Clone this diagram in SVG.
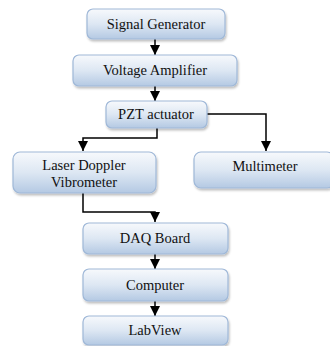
<svg xmlns="http://www.w3.org/2000/svg" width="330" height="346" viewBox="0 0 330 346">
<defs>
<linearGradient id="g" x1="0" y1="0" x2="0" y2="1">
<stop offset="0" stop-color="#f7f9fc"/>
<stop offset="0.5" stop-color="#dde7f3"/>
<stop offset="1" stop-color="#b4c9e3"/>
</linearGradient>
<filter id="sh" x="-10%" y="-10%" width="120%" height="140%">
<feDropShadow dx="1" dy="2" stdDeviation="1.2" flood-color="#000" flood-opacity="0.25"/>
</filter>
<marker id="ah" viewBox="0 0 10 10" refX="10" refY="5" markerWidth="10" markerHeight="10" markerUnits="userSpaceOnUse" orient="auto">
<path d="M0,0 L10,5 L0,10 z" fill="#000"/>
</marker>
</defs>
<style>
rect.b{fill:url(#g);stroke:#9fb8d8;stroke-width:1.2;filter:url(#sh)}
text{font-family:'Liberation Serif','DejaVu Serif','Times New Roman',serif;font-size:14.5px;fill:#111;text-anchor:middle}
.c path{fill:none;stroke:#000;stroke-width:1.5;marker-end:url(#ah)}
</style>
<rect width="330" height="346" fill="#fff"/>
<g class="c" id="connectors">
<path d="M155,39 V55"/>
<path d="M155,86 V101"/>
<path d="M207,114 H266 V151"/>
<path d="M157,128 V138 H83 V151"/>
<path d="M83,193 V212 H155 V222"/>
<path d="M155,254 V269"/>
<path d="M155,301 V316"/>
</g>
<g id="signal-generator"><rect class="b" x="87" y="9" width="138" height="30" rx="6"/><text x="156" y="29">Signal Generator</text></g>
<g id="voltage-amplifier"><rect class="b" x="73" y="55" width="164" height="31" rx="6"/><text x="155" y="75">Voltage Amplifier</text></g>
<g id="pzt-actuator"><rect class="b" x="106" y="101" width="101" height="27" rx="6"/><text x="156" y="119">PZT actuator</text></g>
<g id="ldv"><rect class="b" x="13" y="152" width="143" height="41" rx="7"/><text x="84" y="170">Laser Doppler</text><text x="84" y="187">Vibrometer</text></g>
<g id="multimeter"><rect class="b" x="194" y="152" width="140" height="36" rx="7"/><text x="265" y="171">Multimeter</text></g>
<g id="daq-board"><rect class="b" x="83" y="223" width="145" height="31" rx="6"/><text x="155" y="243">DAQ Board</text></g>
<g id="computer"><rect class="b" x="83" y="269" width="145" height="32" rx="6"/><text x="155" y="290">Computer</text></g>
<g id="labview"><rect class="b" x="83" y="316" width="145" height="29" rx="6"/><text x="155" y="335">LabView</text></g>
</svg>
